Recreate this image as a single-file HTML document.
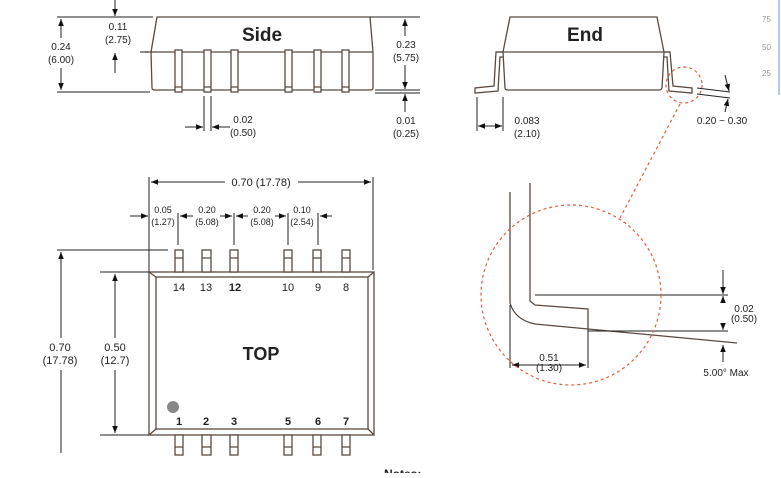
<!DOCTYPE html>
<html><head><meta charset="utf-8"><style>
body{margin:0;background:#fff;width:781px;height:473px;overflow:hidden}
text{font-family:"Liberation Sans",sans-serif;fill:#222}
</style></head><body>
<svg width="781" height="473" viewBox="0 0 781 473" xmlns="http://www.w3.org/2000/svg">
<defs>
<marker id="a" viewBox="0 0 10 10" refX="10" refY="5" markerWidth="7" markerHeight="7" orient="auto-start-reverse"><path d="M0,1 L10,5 L0,9 z" fill="#111"/></marker>
</defs>
<g stroke="#5a4a40" stroke-width="1.3" fill="none">
<path d="M157,17 L370,17 L373,52 L373,88 Q373,90 370,90 L155,90 Q152,90 152,88 L151,52 Z"/>
<line x1="145" y1="52" x2="373" y2="52"/>
<g fill="#fff">
<rect x="175" y="50" width="7" height="42"/><rect x="204" y="50" width="7" height="42"/><rect x="231" y="50" width="7" height="42"/>
<rect x="285" y="50" width="7" height="42"/><rect x="314" y="50" width="7" height="42"/><rect x="342" y="50" width="7" height="42"/>
</g>
<path d="M175,87h7M204,87h7M231,87h7M285,87h7M314,87h7M342,87h7"/>
<path d="M510,17 L657,17 L664,52 L662,88 Q661,90 659,90 L508,90 Q505,90 505,88 L503,52 Z"/>
<line x1="496" y1="52" x2="670" y2="52"/>
<path d="M503,52 L496,52 L494,86 L475,88 L475,93 L498,91 L500,57 L503,57"/>
<path d="M664,52 L670,52 L673,86 L692,88 L692,93 L669,91 L667,57 L664,57"/>
<path d="M510,192 L510,303 Q515,320 535,324 L737,343"/>
<path d="M530,183 L530,301 L535,305 L588,309 L588,331"/>
<rect x="149" y="272" width="225" height="163"/>
<rect x="156" y="277" width="212" height="152"/>
<path d="M149,272 L156,277 M374,272 L368,277 M149,435 L156,429 M374,435 L368,429"/>
<g fill="#fff">
<rect x="175" y="250" width="8" height="22"/><rect x="202" y="250" width="9" height="22"/><rect x="230" y="250" width="8" height="22"/>
<rect x="284" y="250" width="8" height="22"/><rect x="313" y="250" width="8" height="22"/><rect x="342" y="250" width="8" height="22"/>
<rect x="175" y="435" width="8" height="20"/><rect x="202" y="435" width="9" height="20"/><rect x="230" y="435" width="8" height="20"/>
<rect x="284" y="435" width="8" height="20"/><rect x="313" y="435" width="8" height="20"/><rect x="342" y="435" width="8" height="20"/>
</g>
<path d="M175,258h8M202,258h9M230,258h8M284,258h8M313,258h8M342,258h8M175,447h8M202,447h9M230,447h8M284,447h8M313,447h8M342,447h8"/>
</g>
<g stroke="#222" stroke-width="1" fill="none">
<path d="M57,17H153M57,92H150M140,52H148M370,17H420M375,90H420M375,93H420"/>
<line x1="61" y1="38" x2="61" y2="19" marker-end="url(#a)"/>
<line x1="61" y1="68" x2="61" y2="90" marker-end="url(#a)"/>
<line x1="115" y1="0" x2="115" y2="16" marker-end="url(#a)"/>
<line x1="115" y1="73" x2="115" y2="53" marker-end="url(#a)"/>
<line x1="405" y1="36" x2="405" y2="19" marker-end="url(#a)"/>
<line x1="405" y1="65" x2="405" y2="89" marker-end="url(#a)"/>
<line x1="405" y1="112" x2="405" y2="94" marker-end="url(#a)"/>
<path d="M204,96V131M211,96V131"/>
<line x1="185" y1="127" x2="203" y2="127" marker-end="url(#a)"/>
<line x1="230" y1="127" x2="212" y2="127" marker-end="url(#a)"/>
<path d="M477,97V131M503,97V131"/>
<line x1="478" y1="126" x2="502" y2="126" marker-start="url(#a)" marker-end="url(#a)"/>
<path d="M697,88L730,92M697,94L730,98"/>
<line x1="725" y1="75" x2="729" y2="91" marker-end="url(#a)"/>
<line x1="725" y1="112" x2="728" y2="99" marker-end="url(#a)"/>
<path d="M535,295H728M588,331H728M510,305V368M588,331V368"/>
<line x1="723" y1="270" x2="723" y2="294" marker-end="url(#a)"/>
<line x1="723" y1="302" x2="723" y2="296" marker-end="url(#a)"/>
<line x1="723" y1="325" x2="723" y2="330" marker-end="url(#a)"/>
<line x1="723" y1="362" x2="723" y2="345" marker-end="url(#a)"/>
<line x1="512" y1="365" x2="586" y2="365" marker-start="url(#a)" marker-end="url(#a)"/>
<path d="M149,177V272M373,177V270"/>
<line x1="151" y1="182" x2="225" y2="182" marker-start="url(#a)"/>
<line x1="298" y1="182" x2="371" y2="182" marker-end="url(#a)"/>
<path d="M178,213V245M234,213V245M288,213V245M318,213V245"/>
<line x1="130" y1="216" x2="148" y2="216" marker-end="url(#a)"/>
<line x1="180" y1="216" x2="193" y2="216" marker-start="url(#a)"/>
<line x1="220" y1="216" x2="232" y2="216" marker-end="url(#a)"/>
<line x1="236" y1="216" x2="248" y2="216" marker-start="url(#a)"/>
<line x1="275" y1="216" x2="286" y2="216" marker-end="url(#a)"/>
<line x1="332" y1="216" x2="320" y2="216" marker-end="url(#a)"/>
<path d="M57,250H168M100,272H149M100,435H149"/>
<line x1="61" y1="252" x2="61" y2="338" marker-start="url(#a)"/>
<line x1="61" y1="370" x2="61" y2="453"/>
<line x1="115" y1="274" x2="115" y2="338" marker-start="url(#a)"/>
<line x1="115" y1="370" x2="115" y2="433" marker-end="url(#a)"/>
</g>
<g stroke="#e0603a" stroke-width="1.2" fill="none" stroke-dasharray="3,3">
<circle cx="684" cy="85" r="18"/>
<line x1="680" y1="104" x2="620" y2="218"/>
<circle cx="571" cy="295" r="90"/>
</g>
<circle cx="173" cy="407" r="6" fill="#888"/>
<g font-size="10" text-anchor="middle">
<text x="61" y="50">0.24</text><text x="61" y="63">(6.00)</text>
<text x="118" y="30">0.11</text><text x="118" y="43">(2.75)</text>
<text x="406" y="48">0.23</text><text x="406" y="61">(5.75)</text>
<text x="406" y="124">0.01</text><text x="406" y="137">(0.25)</text>
<text x="243" y="123">0.02</text><text x="243" y="136">(0.50)</text>
<text x="527" y="124">0.083</text><text x="527" y="137">(2.10)</text>
<text x="722" y="124">0.20 ~ 0.30</text>
<text x="744" y="312">0.02</text><text x="744" y="322">(0.50)</text>
<text x="726" y="376">5.00° Max</text>
<text x="549" y="361">0.51</text><text x="549" y="371">(1.30)</text>
<text x="261" y="186" font-size="11">0.70 (17.78)</text>
<text x="60" y="351" font-size="11">0.70</text><text x="60" y="364" font-size="11">(17.78)</text>
<text x="115" y="351" font-size="11">0.50</text><text x="115" y="364" font-size="11">(12.7)</text>
</g>
<g font-size="9" text-anchor="middle">
<text x="163" y="213">0.05</text><text x="163" y="225">(1.27)</text>
<text x="207" y="213">0.20</text><text x="207" y="225">(5.08)</text>
<text x="262" y="213">0.20</text><text x="262" y="225">(5.08)</text>
<text x="302" y="213">0.10</text><text x="302" y="225">(2.54)</text>
</g>
<g font-size="11" text-anchor="middle">
<text x="179" y="291">14</text><text x="206" y="291">13</text><text x="235" y="291" font-weight="bold">12</text>
<text x="288" y="291">10</text><text x="318" y="291">9</text><text x="346" y="291">8</text>
</g>
<g font-size="11" text-anchor="middle" font-weight="bold">
<text x="179" y="425">1</text><text x="206" y="425">2</text><text x="234" y="425">3</text>
<text x="288" y="425">5</text><text x="318" y="425">6</text><text x="346" y="425">7</text>
</g>
<text x="262" y="41" font-size="19" font-weight="bold" text-anchor="middle">Side</text>
<text x="585" y="41" font-size="19" font-weight="bold" text-anchor="middle">End</text>
<text x="261" y="360" font-size="18" font-weight="bold" text-anchor="middle">TOP</text>
<text x="384" y="478" font-size="12" font-weight="bold">Notes:</text>
<g font-size="8"><text x="762" y="22" style="fill:#999">75</text><text x="762" y="50" style="fill:#999">50</text><text x="762" y="76" style="fill:#999">25</text></g>
<line x1="779" y1="0" x2="779" y2="95" stroke="#9bd" stroke-width="1.5"/>
</svg>
</body></html>
